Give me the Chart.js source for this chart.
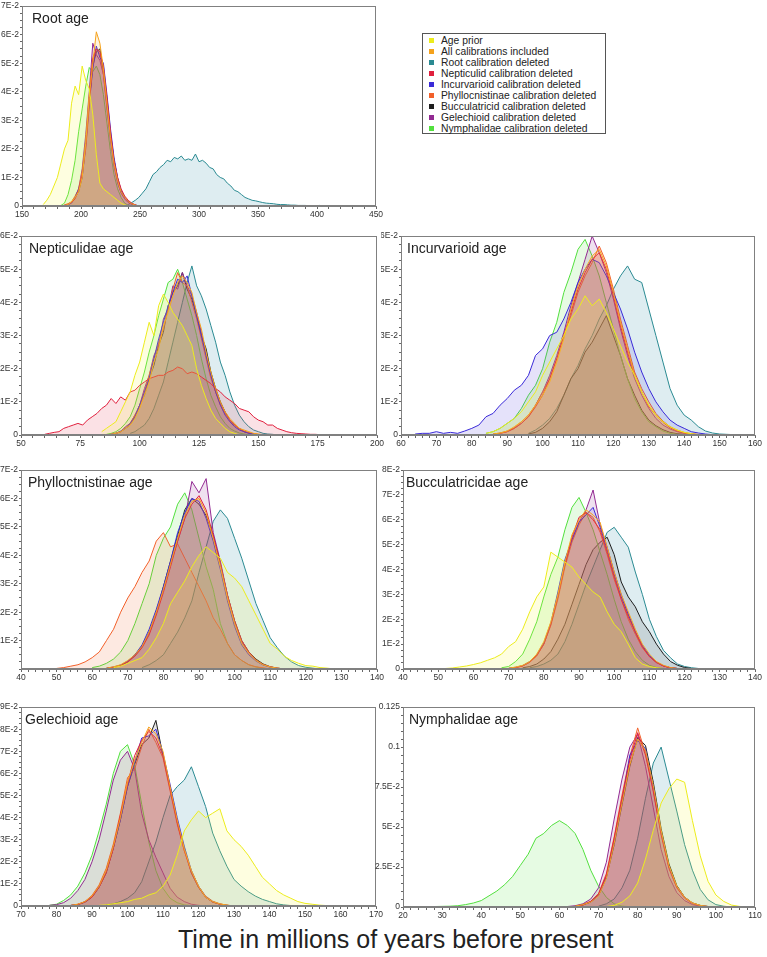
<!DOCTYPE html>
<html>
<head>
<meta charset="utf-8">
<script src="https://cdn.jsdelivr.net/npm/chart.js@4.4.1/dist/chart.umd.min.js"></script>
<style>
  body { margin: 0; background: #fff; width: 767px; height: 957px; position: relative; overflow: hidden;
         font-family: "Liberation Sans", Arial, sans-serif; }
  canvas { position: absolute; }
  #legend { position: absolute; left: 422px; top: 33px; width: 184px; height: 101px; border: 1px solid #555;
            box-sizing: border-box; background: #fff; }
  #legend .row { position: absolute; left: 0; height: 11px; line-height: 11px; font-size: 10.3px; color: #222; white-space: nowrap; }
  #legend .mk { position: absolute; left: 6px; top: 3px; width: 5px; height: 5px; }
  #legend .tx { position: absolute; left: 18px; top: 0; }
  #xtitle { position: absolute; left: 178px; top: 927px; font-size: 25px; line-height: 25px; color: #222; white-space: nowrap; }
</style>
</head>
<body>
<div id="legend"></div>
<div id="xtitle">Time in millions of years before present</div>
<script>
"use strict";

// series, in legend order
const seriesNames = ['Age prior', 'All calibrations included', 'Root calibration deleted',
  'Nepticulid calibration deleted', 'Incurvarioid calibration deleted', 'Phyllocnistinae calibration deleted',
  'Bucculatricid calibration deleted', 'Gelechioid calibration deleted', 'Nymphalidae calibration deleted'];
const lineColors = ['#ecec1c', '#f5a21c', '#2a8a92', '#e0203e', '#3a2ad8', '#f2602a', '#1e1e1e', '#922a92', '#52e03e'];
const fillColors = ['rgba(250,250,60,0.16)', 'rgba(245,160,30,0.14)', 'rgba(60,150,170,0.17)', 'rgba(225,40,70,0.14)',
  'rgba(70,50,220,0.14)', 'rgba(240,100,40,0.14)', 'rgba(30,30,30,0.12)', 'rgba(145,40,145,0.14)', 'rgba(90,225,70,0.15)'];
// higher order = drawn earlier (underneath)
const drawOrder = [1, 2, 9, 3, 4, 5, 8, 6, 7];

// values in units of 1E-2; each series starts at starts[i] and goes on in steps of `step`
// Root age (step 3)
const rootStarts = [168, 186, 240, 186, 186, 186, 186, 186, 183];
const rootValues = [
  [0.05, 0.2, 0.4, 0.7, 1.0, 1.5, 2.0, 2.3, 3.6, 4.2, 3.9, 4.9, 4.4, 4.1, 3.2, 1.8, 0.8, 0.6, 0.5, 0.4, 0.3, 0.2, 0.1, 0.04, 0],
  [0.02, 0.05, 0.15, 0.3, 0.5, 1.0, 2.2, 3.8, 5.0, 6.1, 5.7, 4.8, 3.6, 2.4, 1.5, 0.9, 0.5, 0.3, 0.15, 0.08, 0.03, 0],
  [0.05, 0.12, 0.2, 0.3, 0.45, 0.6, 0.85, 1.1, 1.2, 1.35, 1.45, 1.6, 1.55, 1.7, 1.65, 1.75, 1.6, 1.65, 1.6, 1.82, 1.55,
   1.6, 1.5, 1.35, 1.3, 1.1, 1.0, 0.95, 0.8, 0.7, 0.55, 0.5, 0.4, 0.3, 0.25, 0.2, 0.18, 0.15, 0.12, 0.1, 0.09, 0.08,
   0.06, 0.05, 0.05, 0.04, 0.03, 0.03, 0.02, 0.02, 0.02, 0.01, 0.01, 0.01, 0.02, 0.01, 0.01, 0.005, 0.01, 0.005, 0],
  [0.03, 0.06, 0.12, 0.25, 0.55, 1.1, 2.0, 3.5, 5.1, 5.5, 5.4, 4.9, 3.8, 2.6, 1.6, 1.0, 0.6, 0.35, 0.2, 0.1, 0.04, 0],
  [0.02, 0.05, 0.1, 0.3, 0.6, 1.0, 2.1, 3.6, 4.8, 5.6, 5.2, 5.0, 3.9, 2.7, 1.7, 1.0, 0.55, 0.3, 0.15, 0.08, 0.03, 0],
  [0.04, 0.08, 0.15, 0.35, 0.6, 1.2, 2.3, 3.9, 5.2, 5.5, 5.3, 4.6, 3.5, 2.4, 1.5, 0.9, 0.5, 0.3, 0.15, 0.07, 0.03, 0],
  [0.02, 0.05, 0.12, 0.3, 0.5, 1.0, 2.2, 3.7, 4.9, 5.4, 5.5, 4.7, 3.7, 2.5, 1.6, 0.95, 0.5, 0.3, 0.15, 0.08, 0.03, 0],
  [0.03, 0.06, 0.15, 0.3, 0.6, 1.3, 2.5, 4.0, 5.7, 5.3, 5.1, 4.6, 3.4, 2.3, 1.4, 0.8, 0.45, 0.25, 0.12, 0.06, 0.02, 0],
  [0.02, 0.1, 0.4, 0.9, 1.6, 2.6, 3.4, 4.2, 4.85, 4.7, 4.9, 4.6, 3.9, 2.9, 1.9, 1.1, 0.6, 0.3, 0.1, 0.03, 0]
];

// Nepticulidae age (step 2)
const neptStarts = [84, 88, 96, 60, 88, 88, 88, 88, 86];
const neptValues = [
  [0.1, 0.2, 0.3, 0.4, 0.7, 1.0, 1.3, 1.8, 2.2, 2.8, 3.4, 3.0, 3.9, 4.25, 4.0, 3.7, 3.5, 3.3, 3.0, 2.7, 2.0, 1.5, 1.1, 0.75, 0.5, 0.35, 0.2, 0.1, 0.05, 0],
  [0.02, 0.05, 0.1, 0.2, 0.3, 0.5, 0.8, 1.2, 1.6, 2.2, 2.6, 3.3, 3.7, 4.2, 4.6, 4.8, 4.6, 4.3, 3.7, 3.2, 2.5, 1.9, 1.4, 1.0, 0.7, 0.5, 0.35, 0.2, 0.15, 0.1, 0.05, 0.03, 0.01, 0],
  [0.05, 0.1, 0.2, 0.3, 0.5, 0.8, 1.2, 1.6, 2.2, 2.8, 3.4, 4.0, 4.6, 5.1, 4.5, 4.2, 3.8, 3.3, 2.8, 2.2, 1.8, 1.3, 0.9, 0.6, 0.4, 0.25, 0.15, 0.1, 0.05, 0.03, 0.02, 0],
  [0.02, 0.05, 0.08, 0.1, 0.2, 0.25, 0.3, 0.35, 0.3, 0.45, 0.55, 0.65, 0.8, 0.9, 1.1, 0.95, 1.15, 1.05, 1.3, 1.35, 1.5,
   1.6, 1.7, 1.75, 1.8, 1.8, 1.9, 1.95, 2.05, 2.0, 1.85, 1.9, 1.85, 1.75, 1.65, 1.55, 1.4, 1.3, 1.15, 1.05, 0.95, 0.8,
   0.75, 0.7, 0.55, 0.45, 0.4, 0.3, 0.3, 0.2, 0.15, 0.1, 0.07, 0.05, 0.04, 0.03, 0.02, 0.02, 0.01, 0.01, 0],
  [0.02, 0.05, 0.12, 0.2, 0.35, 0.55, 0.9, 1.3, 1.7, 2.3, 2.9, 3.4, 3.9, 4.3, 4.7, 4.6, 4.8, 4.2, 3.6, 3.0, 2.4, 1.8, 1.3, 0.9, 0.6, 0.4, 0.25, 0.15, 0.1, 0.05, 0.03, 0.01, 0],
  [0.03, 0.06, 0.1, 0.2, 0.35, 0.6, 0.85, 1.3, 1.8, 2.3, 2.8, 3.2, 3.8, 4.4, 4.9, 4.6, 4.5, 4.0, 3.5, 2.9, 2.3, 1.7, 1.3, 0.9, 0.65, 0.45, 0.3, 0.2, 0.12, 0.07, 0.04, 0.02, 0],
  [0.02, 0.04, 0.1, 0.2, 0.3, 0.55, 0.9, 1.2, 1.7, 2.1, 2.7, 3.1, 3.9, 4.3, 4.5, 4.9, 4.4, 4.1, 3.6, 3.0, 2.6, 1.9, 1.4, 1.0, 0.7, 0.45, 0.3, 0.2, 0.1, 0.06, 0.03, 0.01, 0],
  [0.02, 0.05, 0.1, 0.25, 0.35, 0.6, 0.9, 1.4, 1.8, 2.4, 2.7, 3.5, 3.8, 4.5, 4.4, 4.9, 4.5, 4.2, 3.7, 3.1, 2.4, 1.8, 1.3, 0.95, 0.65, 0.45, 0.3, 0.18, 0.1, 0.06, 0.03, 0.01, 0],
  [0.02, 0.05, 0.1, 0.2, 0.35, 0.55, 0.9, 1.4, 1.9, 2.5, 3.0, 3.6, 4.1, 4.6, 4.7, 5.0, 4.6, 4.1, 3.6, 3.0, 2.3, 1.7, 1.2, 0.85, 0.55, 0.35, 0.2, 0.12, 0.06, 0.03, 0.01, 0]
];

// Incurvarioid age (step 2)
const incurStarts = [84, 86, 96, 86, 64, 86, 96, 86, 84];
const incurValues = [
  [0.05, 0.1, 0.2, 0.35, 0.5, 0.7, 1.0, 1.3, 1.8, 2.2, 2.6, 3.0, 3.5, 3.8, 4.2, 3.9, 4.1, 3.7, 3.2, 2.7, 2.2, 1.8, 1.3, 0.9, 0.6, 0.4, 0.25, 0.15, 0.08, 0.04, 0],
  [0.03, 0.06, 0.12, 0.25, 0.4, 0.6, 0.9, 1.2, 1.6, 2.2, 2.9, 3.8, 4.5, 5.0, 5.4, 5.6, 5.1, 4.3, 3.4, 2.6, 1.8, 1.3, 0.9, 0.6, 0.4, 0.25, 0.15, 0.08, 0.04, 0.02, 0],
  [0.05, 0.15, 0.3, 0.5, 0.8, 1.2, 1.7, 2.1, 2.6, 3.0, 3.5, 3.9, 4.4, 4.8, 5.1, 4.7, 4.6, 3.8, 3.0, 2.2, 1.4, 0.9, 0.6, 0.45, 0.25, 0.12, 0.06, 0.03, 0.02, 0.01, 0],
  [0.02, 0.05, 0.1, 0.2, 0.35, 0.55, 0.85, 1.2, 1.7, 2.3, 3.0, 3.7, 4.4, 4.9, 5.3, 5.5, 5.0, 4.2, 3.3, 2.5, 1.8, 1.3, 0.85, 0.6, 0.38, 0.22, 0.12, 0.06, 0.03, 0.01, 0],
  [0.03, 0.05, 0.05, 0.1, 0.05, 0.08, 0.05, 0.12, 0.2, 0.3, 0.55, 0.65, 0.9, 1.1, 1.35, 1.5, 1.8, 2.4, 2.6, 3.0, 3.1, 3.5,
   4.0, 4.6, 5.0, 5.3, 5.2, 4.8, 4.3, 3.8, 3.2, 2.5, 1.9, 1.4, 1.0, 0.7, 0.45, 0.3, 0.2, 0.1, 0.06, 0.03, 0.01, 0],
  [0.03, 0.06, 0.12, 0.22, 0.4, 0.6, 0.9, 1.3, 1.7, 2.3, 3.0, 3.6, 4.3, 4.8, 5.2, 5.7, 5.2, 4.4, 3.5, 2.7, 1.9, 1.4, 1.0, 0.65, 0.42, 0.25, 0.14, 0.07, 0.03, 0.01, 0],
  [0.03, 0.08, 0.2, 0.4, 0.7, 1.2, 1.7, 2.0, 2.5, 2.8, 3.2, 3.6, 3.0, 2.4, 1.7, 1.2, 0.75, 0.45, 0.28, 0.16, 0.08, 0.04, 0.02, 0],
  [0.02, 0.05, 0.1, 0.2, 0.35, 0.55, 0.9, 1.3, 1.8, 2.4, 3.1, 3.9, 4.6, 5.3, 6.0, 5.5, 4.9, 4.1, 3.2, 2.4, 1.7, 1.2, 0.8, 0.5, 0.3, 0.18, 0.1, 0.05, 0.02, 0.01, 0],
  [0.05, 0.1, 0.2, 0.35, 0.5, 0.8, 1.2, 1.5, 2.0, 2.8, 3.4, 4.3, 4.9, 5.6, 5.9, 5.4, 4.8, 4.0, 3.2, 2.4, 1.7, 1.1, 0.7, 0.4, 0.25, 0.12, 0.05, 0.02, 0]
];

// Phyllocnistinae age (step 2)
const phyllStarts = [66, 64, 74, 64, 64, 50, 64, 64, 60];
const phyllValues = [
  [0.05, 0.1, 0.2, 0.3, 0.4, 0.7, 1.1, 1.6, 2.3, 2.7, 3.1, 3.6, 4.0, 4.3, 4.1, 3.9, 3.4, 3.2, 2.9, 2.4, 1.9, 1.4, 0.9, 0.7, 0.45, 0.3, 0.2, 0.12, 0.1, 0.05, 0.03, 0],
  [0.03, 0.08, 0.15, 0.3, 0.5, 0.8, 1.3, 2.0, 2.8, 3.7, 4.6, 5.4, 5.9, 6.0, 5.5, 4.6, 3.6, 2.5, 1.6, 0.9, 0.55, 0.3, 0.15, 0.07, 0.03, 0],
  [0.05, 0.15, 0.3, 0.5, 0.9, 1.3, 1.8, 2.4, 3.4, 4.3, 5.2, 5.6, 5.3, 4.6, 3.9, 3.1, 2.3, 1.7, 1.1, 0.75, 0.45, 0.25, 0.12, 0.06, 0.03, 0],
  [0.02, 0.06, 0.12, 0.25, 0.45, 0.75, 1.2, 1.9, 2.7, 3.6, 4.5, 5.3, 5.8, 6.1, 5.6, 4.7, 3.7, 2.6, 1.7, 1.0, 0.6, 0.32, 0.16, 0.08, 0.03, 0],
  [0.03, 0.07, 0.14, 0.28, 0.5, 0.85, 1.4, 2.1, 2.9, 3.8, 4.8, 5.5, 6.0, 5.9, 5.3, 4.5, 3.5, 2.4, 1.5, 0.85, 0.5, 0.28, 0.14, 0.06, 0.02, 0],
  [0.02, 0.05, 0.1, 0.15, 0.25, 0.4, 0.6, 1.0, 1.4, 2.0, 2.5, 2.9, 3.4, 3.8, 4.5, 4.8, 4.3, 4.4, 3.9, 3.4, 2.9, 2.4, 1.8, 1.4, 0.9, 0.5, 0.3, 0.15, 0.08, 0.04, 0],
  [0.02, 0.05, 0.12, 0.25, 0.5, 0.8, 1.3, 2.0, 2.9, 3.8, 4.7, 5.6, 6.0, 5.8, 5.4, 4.7, 3.7, 2.6, 1.7, 1.0, 0.6, 0.35, 0.18, 0.08, 0.03, 0],
  [0.02, 0.06, 0.13, 0.27, 0.48, 0.8, 1.25, 1.95, 2.8, 3.7, 4.5, 5.3, 6.6, 6.2, 6.7, 4.8, 3.8, 2.6, 1.6, 0.95, 0.55, 0.3, 0.15, 0.07, 0.03, 0],
  [0.05, 0.1, 0.2, 0.35, 0.6, 1.0, 1.6, 2.3, 3.0, 4.0, 4.6, 5.0, 5.8, 6.2, 5.6, 4.6, 3.6, 2.8, 1.6, 0.9, 0.5, 0.3, 0.15, 0.07, 0.03, 0]
];

// Bucculatricidae age (step 2)
const buccStarts = [52, 70, 76, 70, 70, 70, 74, 70, 68];
const buccValues = [
  [0.02, 0.04, 0.08, 0.12, 0.18, 0.25, 0.35, 0.45, 0.6, 0.9, 1.1, 1.6, 2.3, 2.9, 3.3, 4.7, 4.5, 4.3, 4.1, 3.7, 3.4, 3.1, 2.9, 2.3, 1.8, 1.5, 1.0, 0.45, 0.2, 0.1, 0.05, 0.02, 0],
  [0.03, 0.08, 0.15, 0.3, 0.6, 1.1, 1.9, 3.0, 4.3, 5.4, 6.0, 6.4, 6.2, 5.9, 4.9, 3.9, 3.0, 2.3, 1.6, 1.0, 0.6, 0.3, 0.15, 0.06, 0.02, 0],
  [0.05, 0.1, 0.2, 0.35, 0.6, 1.1, 1.8, 2.6, 3.4, 4.1, 4.8, 5.5, 5.7, 5.3, 4.9, 3.9, 3.0, 2.0, 1.3, 0.75, 0.45, 0.2, 0.1, 0.05, 0.02, 0.01, 0],
  [0.02, 0.06, 0.12, 0.28, 0.55, 1.0, 1.8, 2.9, 4.2, 5.3, 6.1, 6.3, 6.0, 5.6, 4.7, 3.7, 2.8, 2.1, 1.5, 0.9, 0.5, 0.27, 0.12, 0.05, 0.02, 0],
  [0.03, 0.07, 0.14, 0.3, 0.58, 1.05, 1.85, 3.1, 4.4, 5.2, 5.9, 6.2, 6.5, 5.7, 4.8, 3.8, 2.9, 2.2, 1.5, 0.95, 0.55, 0.28, 0.13, 0.05, 0.02, 0],
  [0.02, 0.05, 0.13, 0.27, 0.52, 1.0, 1.75, 2.8, 4.1, 5.1, 5.8, 6.3, 6.1, 5.5, 4.6, 3.6, 2.8, 2.0, 1.4, 0.85, 0.5, 0.25, 0.12, 0.05, 0.02, 0],
  [0.05, 0.1, 0.2, 0.4, 0.7, 1.2, 1.8, 2.6, 3.4, 4.2, 4.8, 5.1, 5.3, 4.6, 3.5, 2.9, 2.5, 1.9, 1.5, 1.0, 0.6, 0.3, 0.15, 0.06, 0.02, 0],
  [0.02, 0.06, 0.13, 0.28, 0.55, 1.0, 1.8, 2.9, 4.2, 5.2, 5.9, 6.4, 7.2, 5.8, 4.9, 3.9, 3.0, 2.2, 1.5, 0.9, 0.5, 0.26, 0.12, 0.05, 0.02, 0],
  [0.05, 0.1, 0.3, 0.6, 1.2, 1.9, 2.9, 3.8, 4.5, 5.6, 6.5, 6.9, 6.3, 5.6, 4.7, 3.8, 2.8, 1.9, 1.2, 0.7, 0.35, 0.15, 0.06, 0.02, 0]
];

// Gelechioid age (step 2)
const gelStarts = [92, 84, 94, 84, 84, 84, 84, 78, 78];
const gelValues = [
  [0.03, 0.05, 0.1, 0.15, 0.2, 0.3, 0.35, 0.5, 0.6, 0.9, 1.4, 2.3, 3.4, 3.9, 4.3, 4.0, 4.2, 4.4, 3.4, 3.0, 2.7, 2.3, 1.8, 1.3, 1.0, 0.7, 0.5, 0.35, 0.2, 0.12, 0.08, 0.04, 0.02, 0],
  [0.03, 0.08, 0.2, 0.45, 0.9, 1.6, 2.7, 4.0, 5.6, 6.6, 7.4, 8.1, 7.8, 7.0, 5.4, 3.9, 2.6, 1.6, 0.9, 0.4, 0.2, 0.1, 0.04, 0],
  [0.05, 0.1, 0.2, 0.35, 0.6, 1.1, 2.0, 2.9, 4.0, 5.0, 5.4, 5.7, 6.3, 5.4, 4.5, 3.3, 2.5, 1.8, 1.2, 0.9, 0.65, 0.45, 0.3, 0.2, 0.1, 0.05, 0.02, 0],
  [0.02, 0.07, 0.18, 0.4, 0.85, 1.5, 2.6, 4.1, 5.5, 6.8, 7.5, 7.9, 7.6, 6.8, 5.3, 3.8, 2.5, 1.5, 0.85, 0.4, 0.18, 0.08, 0.03, 0],
  [0.03, 0.07, 0.19, 0.42, 0.88, 1.55, 2.65, 3.9, 5.4, 6.5, 7.6, 7.7, 8.0, 6.9, 5.5, 4.0, 2.7, 1.6, 0.9, 0.42, 0.2, 0.09, 0.03, 0],
  [0.02, 0.08, 0.2, 0.48, 0.95, 1.7, 2.8, 4.2, 5.8, 6.2, 7.2, 8.0, 7.4, 6.7, 5.2, 3.7, 2.5, 1.6, 0.9, 0.45, 0.22, 0.1, 0.04, 0],
  [0.02, 0.06, 0.17, 0.4, 0.85, 1.5, 2.6, 3.9, 5.4, 6.4, 7.3, 7.6, 8.4, 6.8, 5.4, 3.8, 2.6, 1.5, 0.85, 0.4, 0.18, 0.08, 0.03, 0],
  [0.03, 0.06, 0.15, 0.35, 0.7, 1.2, 2.0, 3.0, 4.3, 5.7, 6.6, 7.0, 6.2, 4.2, 3.0, 2.2, 1.5, 0.8, 0.4, 0.2, 0.08, 0.03, 0],
  [0.03, 0.08, 0.25, 0.5, 0.9, 1.5, 2.3, 3.4, 4.6, 6.0, 7.0, 7.3, 6.4, 4.6, 2.9, 1.6, 0.8, 0.35, 0.15, 0.05, 0.02, 0]
];

// Nymphalidae age (step 2)
const nymphStarts = [72, 64, 70, 64, 64, 64, 64, 62, 26];
const nymphValues = [
  [0.03, 0.1, 0.3, 0.7, 1.5, 3.0, 4.8, 6.5, 7.4, 8.0, 7.8, 5.4, 3.2, 1.6, 0.75, 0.35, 0.12, 0.04, 0],
  [0.05, 0.15, 0.3, 0.7, 1.8, 4.0, 6.5, 8.9, 10.5, 9.8, 7.6, 4.8, 2.6, 1.3, 0.6, 0.25, 0.1, 0.03, 0],
  [0.05, 0.2, 0.5, 1.2, 2.3, 4.3, 6.8, 9.0, 10.0, 8.0, 6.0, 3.9, 2.3, 1.1, 0.45, 0.15, 0.05, 0],
  [0.04, 0.12, 0.35, 0.8, 2.0, 4.3, 6.8, 9.2, 10.9, 9.5, 7.2, 4.5, 2.4, 1.2, 0.55, 0.22, 0.08, 0.02, 0],
  [0.05, 0.14, 0.32, 0.75, 1.9, 4.1, 6.6, 9.5, 10.4, 9.9, 7.5, 4.7, 2.5, 1.25, 0.6, 0.24, 0.09, 0.03, 0],
  [0.06, 0.16, 0.36, 0.85, 2.1, 4.4, 7.0, 9.4, 11.2, 9.6, 7.3, 4.6, 2.5, 1.3, 0.62, 0.26, 0.1, 0.03, 0],
  [0.04, 0.13, 0.3, 0.72, 1.85, 3.9, 6.4, 8.8, 10.6, 10.1, 7.8, 4.9, 2.7, 1.35, 0.62, 0.25, 0.1, 0.03, 0],
  [0.03, 0.08, 0.2, 0.5, 1.2, 2.8, 5.5, 8.0, 10.0, 10.8, 8.8, 6.2, 3.6, 1.9, 0.9, 0.4, 0.15, 0.05, 0.01, 0],
  [0.02, 0.03, 0.04, 0.05, 0.08, 0.15, 0.25, 0.4, 0.7, 1.0, 1.4, 1.9, 2.6, 3.3, 4.3, 4.6, 5.1, 5.4, 5.1, 4.6, 3.6, 2.3, 1.3, 0.6, 0.2, 0.06, 0.02, 0]
];

// y tick labels (values in 1E-2)
const yTicks6 = [0, 1, 2, 3, 4, 5, 6];
const yLabels6 = ['0', '1E-2', '2E-2', '3E-2', '4E-2', '5E-2', '6E-2'];
const yTicks7 = [0, 1, 2, 3, 4, 5, 6, 7];
const yLabels7 = ['0', '1E-2', '2E-2', '3E-2', '4E-2', '5E-2', '6E-2', '7E-2'];
const yTicksPhyll = [1, 2, 3, 4, 5, 6, 7];
const yLabelsPhyll = ['1E-2', '2E-2', '3E-2', '4E-2', '5E-2', '6E-2', '7E-2'];
const yTicks8 = [0, 1, 2, 3, 4, 5, 6, 7, 8];
const yLabels8 = ['0', '1E-2', '2E-2', '3E-2', '4E-2', '5E-2', '6E-2', '7E-2', '8E-2'];
const yTicks9 = [0, 1, 2, 3, 4, 5, 6, 7, 8, 9];
const yLabels9 = ['0', '1E-2', '2E-2', '3E-2', '4E-2', '5E-2', '6E-2', '7E-2', '8E-2', '9E-2'];
const yTicksNymph = [0, 2.5, 5, 7.5, 10, 12.5];
const yLabelsNymph = ['0', '2.5E-2', '5E-2', '7.5E-2', '0.1', '0.125'];

// panel layout: plot rectangle in page pixels
const panels = [
  { title: 'Root age', l: 22, t: 6, r: 376, b: 206, yW: 22, dx: 10, xMin: 150, xMax: 450, xMinor: 10, xMajor: 50,
    yMax: 7, yMinor: 0.25, yTicks: yTicks7, yLabels: yLabels7, step: 3, starts: rootStarts, values: rootValues },
  { title: 'Nepticulidae age', l: 21, t: 236, r: 377, b: 435, yW: 21, dx: 8, xMin: 50, xMax: 200, xMinor: 5, xMajor: 25,
    yMax: 6, yMinor: 0.25, yTicks: yTicks6, yLabels: yLabels6, step: 2, starts: neptStarts, values: neptValues },
  { title: 'Incurvarioid age', l: 401, t: 236, r: 755, b: 435, yW: 20, dx: 6, xMin: 60, xMax: 160, xMinor: 2, xMajor: 10,
    yMax: 6, yMinor: 0.25, yTicks: yTicks6, yLabels: yLabels6, step: 2, starts: incurStarts, values: incurValues },
  { title: 'Phylloctnistinae age', l: 21, t: 470, r: 377, b: 669, yW: 21, dx: 7, xMin: 40, xMax: 140, xMinor: 2, xMajor: 10,
    yMax: 7, yMinor: 0.25, yTicks: yTicksPhyll, yLabels: yLabelsPhyll, step: 2, starts: phyllStarts, values: phyllValues },
  { title: 'Bucculatricidae age', l: 403, t: 470, r: 755, b: 669, yW: 22, dx: 3, xMin: 40, xMax: 140, xMinor: 2, xMajor: 10,
    yMax: 8, yMinor: 0.25, yTicks: yTicks8, yLabels: yLabels8, step: 2, starts: buccStarts, values: buccValues },
  { title: 'Gelechioid age', l: 21, t: 707, r: 376, b: 906, yW: 21, dx: 4, xMin: 70, xMax: 170, xMinor: 2, xMajor: 10,
    yMax: 9, yMinor: 0.25, yTicks: yTicks9, yLabels: yLabels9, step: 2, starts: gelStarts, values: gelValues },
  { title: 'Nymphalidae age', l: 403, t: 707, r: 755, b: 907, yW: 30, dx: 6, xMin: 20, xMax: 110, xMinor: 2, xMajor: 10,
    yMax: 12.5, yMinor: 0.5, yTicks: yTicksNymph, yLabels: yLabelsNymph, step: 2, starts: nymphStarts, values: nymphValues }
];

const PAD_T = 6, PAD_R = 12, X_H = 16;
const FONT = '"Liberation Sans", Arial, sans-serif';

Chart.defaults.font.family = FONT;
Chart.defaults.font.size = 8.5;
Chart.defaults.color = '#333';

// frame round the plot area and the panel title
const framePlugin = {
  id: 'frame',
  afterDatasetsDraw(chart, args, opts) {
    const a = chart.chartArea, ctx = chart.ctx;
    ctx.save();
    ctx.strokeStyle = '#808080';
    ctx.lineWidth = 1;
    ctx.strokeRect(Math.round(a.left) + 0.5, Math.round(a.top) + 0.5, Math.round(a.right - a.left) - 1, Math.round(a.bottom - a.top) - 1);
    ctx.fillStyle = '#222';
    ctx.font = '14px ' + FONT;
    ctx.textBaseline = 'middle';
    ctx.fillText(opts.title, a.left + opts.dx, a.top + 13);
    ctx.restore();
  }
};

function toPoints(start, step, vals) {
  return vals.map((v, i) => ({ x: start + i * step, y: v }));
}

panels.forEach(function (p) {
  var canvas = document.createElement('canvas');
  var w = p.yW + (p.r - p.l) + PAD_R;
  var h = PAD_T + (p.b - p.t) + X_H;
  canvas.width = w;
  canvas.height = h;
  canvas.style.left = (p.l - p.yW) + 'px';
  canvas.style.top = (p.t - PAD_T) + 'px';
  canvas.style.width = w + 'px';
  canvas.style.height = h + 'px';
  document.body.appendChild(canvas);

  var datasets = p.values.map(function (vals, s) {
    return {
      label: seriesNames[s],
      data: toPoints(p.starts[s], p.step, vals),
      borderColor: lineColors[s],
      backgroundColor: fillColors[s],
      borderWidth: 1,
      pointRadius: 0,
      tension: 0,
      fill: 'origin',
      order: drawOrder[s]
    };
  });

  new Chart(canvas, {
    type: 'line',
    data: { datasets: datasets },
    options: {
      responsive: false,
      animation: false,
      devicePixelRatio: 1,
      layout: { padding: { top: PAD_T, right: PAD_R, left: 0, bottom: 0 } },
      plugins: {
        legend: { display: false },
        tooltip: { enabled: false },
        frame: { title: p.title, dx: p.dx }
      },
      scales: {
        x: {
          type: 'linear',
          min: p.xMin,
          max: p.xMax,
          afterFit: function (s) { s.height = X_H; },
          grid: { drawOnChartArea: false, tickLength: 3, color: '#666' },
          border: { color: '#808080' },
          ticks: {
            stepSize: p.xMinor, autoSkip: false, maxRotation: 0, padding: 1, maxTicksLimit: 1000,
            callback: function (v) { return (v - p.xMin) % p.xMajor === 0 ? String(v) : ''; }
          }
        },
        y: {
          min: 0,
          max: p.yMax,
          afterFit: function (s) { s.width = p.yW; },
          grid: { drawOnChartArea: false, tickLength: 2, color: '#666' },
          border: { color: '#808080' },
          ticks: {
            stepSize: p.yMinor, autoSkip: false, padding: 1, maxTicksLimit: 1000,
            callback: function (v) {
              for (var k = 0; k < p.yTicks.length; k++) {
                if (Math.abs(p.yTicks[k] - v) < 1e-6) return p.yLabels[k];
              }
              return '';
            }
          }
        }
      }
    },
    plugins: [framePlugin]
  });
});

// legend box
var legend = document.getElementById('legend');
seriesNames.forEach(function (name, i) {
  var row = document.createElement('div');
  row.className = 'row';
  row.style.top = (1 + 11 * i) + 'px';
  row.innerHTML = '<span class="mk" style="background:' + lineColors[i] + '"></span><span class="tx">' + name + '</span>';
  legend.appendChild(row);
});
</script>
</body>
</html>
